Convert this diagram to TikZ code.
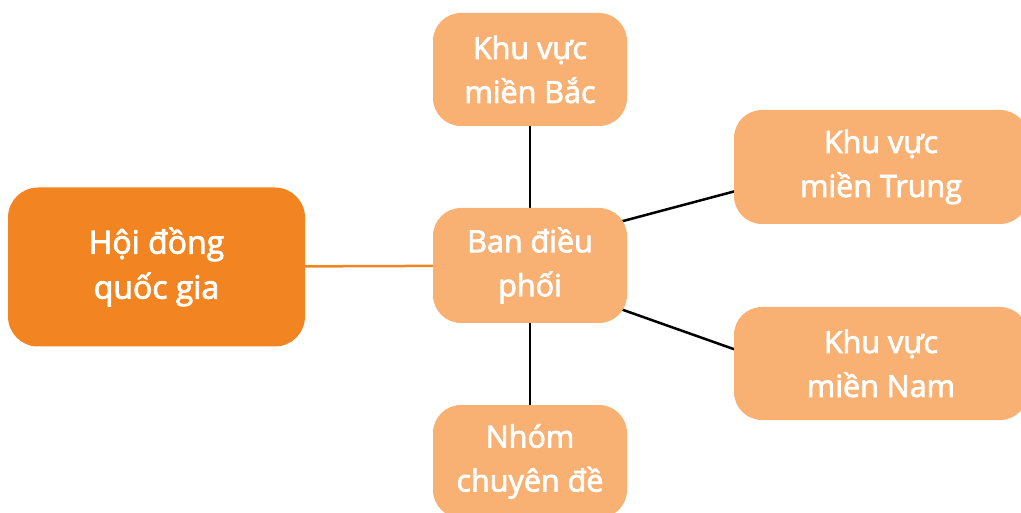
\documentclass[tikz,border=0pt]{standalone}
\usepackage{fontspec}
\setmainfont{Open Sans}
\newfontfamily\boxfont[FakeBold=2.6]{Open Sans}
\usetikzlibrary{backgrounds,calc}
\definecolor{darkor}{HTML}{F28522}
\definecolor{lightor}{HTML}{F9B073}
\begin{document}
\begin{tikzpicture}[x=1pt,y=-1pt,
  box/.style={rounded corners=28pt, fill=lightor, text=white, align=center,
    font=\boxfont\fontsize{30.5}{44}\selectfont, inner sep=0pt},
  link/.style={line width=2.5pt, draw=black}]
\useasboundingbox (0,0) rectangle (1021,513);
\node[box, fill=darkor, rounded corners=30pt, minimum width=297pt, minimum height=159pt,
  font=\boxfont\fontsize{32}{45}\selectfont] (hd) at (156.5,267) {Hội đồng\\quốc gia};
\node[box, minimum width=194pt, minimum height=115pt] (ban) at (530,265.5) {Ban điều\\phối};
\node[box, minimum width=194pt, minimum height=113pt] (bac) at (530,69.5) {Khu vực\\miền Bắc};
\node[box, minimum width=294pt, minimum height=114pt] (trung) at (881,167) {Khu vực\\miền Trung};
\node[box, minimum width=294pt, minimum height=113pt] (nam) at (881,363.5) {Khu vực\\miền Nam};
\node[box, minimum width=194pt, minimum height=113pt] (nhom) at (530,461.5) {Nhóm\\chuyên đề};
\begin{scope}[on background layer]
\draw[link] (ban.center) -- (bac.center);
\draw[link] (ban.center) -- (nhom.center);
\draw[link] ($(ban.center)+(80,-41)$) -- ($(trung.west)+(11,21.6)$);
\draw[link] ($(ban.center)+(80,39.8)$) -- ($(nam.west)+(11,-10.5)$);
\draw[line width=2.5pt, draw=darkor] (hd.center) -- (ban.center);
\end{scope}
\end{tikzpicture}
\end{document}
